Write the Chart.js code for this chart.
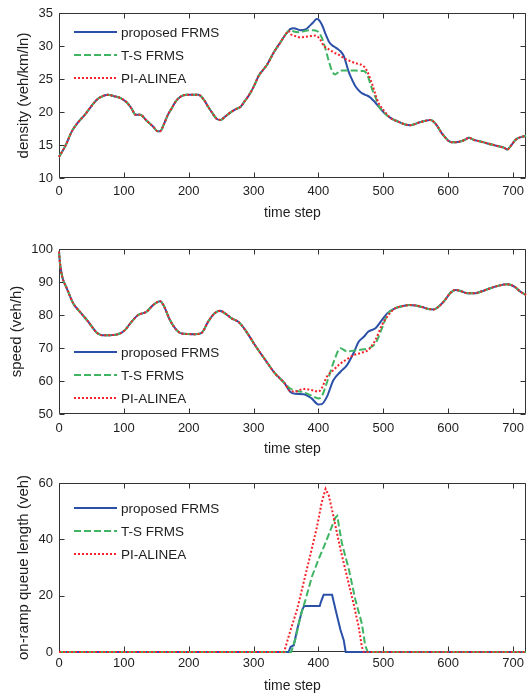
<!DOCTYPE html>
<html>
<head>
<meta charset="utf-8">
<script src="https://cdn.jsdelivr.net/npm/chart.js@4.4.1/dist/chart.umd.min.js"></script>
<style>
  html, body { margin: 0; padding: 0; background: #fff; }
  .panel { position: absolute; left: 0; width: 528px; }
</style>
</head>
<body>
<div class="panel" style="top:0;height:240px"><canvas id="density"></canvas></div>
<div class="panel" style="top:240px;height:230px"><canvas id="speed"></canvas></div>
<div class="panel" style="top:470px;height:225px"><canvas id="queue"></canvas></div>
<script>
// ---- data ----
const seriesLabels = ["proposed FRMS", "T-S FRMS", "PI-ALINEA"];

// density (veh/km/ln): shared part, diverging part (~355-511), shared tail
const densityHeadSteps = [0, 5, 10, 20, 30, 40, 50, 60, 70, 75, 85, 95, 105, 112, 118, 125, 136, 145, 152, 156, 162, 168, 174, 180, 187, 197, 215, 223, 230, 236, 244, 249, 256, 264, 272, 280, 286, 292, 300, 308, 314, 321, 331, 341, 349, 354];
const densityHead = [13.2, 14.0, 14.9, 17.1, 18.5, 19.6, 20.9, 22.0, 22.5, 22.6, 22.4, 22.1, 21.4, 20.5, 19.6, 19.6, 18.6, 17.8, 17.1, 17.1, 18.2, 19.6, 20.6, 21.6, 22.3, 22.6, 22.6, 21.9, 20.8, 19.9, 18.9, 18.8, 19.3, 19.9, 20.4, 20.8, 21.6, 22.4, 23.8, 25.5, 26.3, 27.2, 29.0, 30.5, 31.7, 32.3];
const densityMidSteps = [357, 362, 372, 380, 388, 393, 397, 400, 405, 408, 411, 416, 421, 426, 429, 434, 439, 442, 447, 449, 457, 465, 470, 472, 475, 480, 483, 488, 493, 501, 511];
const densityMidProposed = [32.6, 32.7, 32.4, 32.5, 33.2, 33.7, 34.1, 34.0, 33.3, 32.6, 31.8, 30.7, 30.1, 29.8, 29.6, 29.2, 28.5, 27.6, 26.0, 25.5, 23.9, 23.0, 22.7, 22.6, 22.5, 22.2, 21.9, 21.4, 20.8, 19.9, 19.1];
const densityMidTS = [32.4, 32.2, 32.1, 32.3, 32.4, 32.4, 32.3, 32.1, 31.3, 30.5, 29.5, 27.7, 26.2, 25.7, 25.9, 26.3, 26.3, 26.3, 26.3, 26.3, 26.3, 26.2, 26.2, 26.1, 25.7, 24.3, 23.4, 22.2, 20.9, 19.9, 19.1];
const densityMidPI = [31.8, 31.6, 31.3, 31.4, 31.5, 31.6, 31.5, 31.3, 30.6, 30.0, 29.8, 29.5, 29.2, 28.9, 28.8, 28.5, 28.2, 28.0, 27.8, 27.7, 27.4, 27.2, 26.9, 26.7, 26.2, 25.0, 24.2, 22.6, 21.3, 20.2, 19.1];
const densityTailSteps = [524, 534, 542, 555, 567, 573, 578, 583, 590, 596, 601, 608, 617, 626, 632, 639, 647, 655, 662, 670, 678, 686, 691, 696, 704, 712, 720];
const densityTail = [18.5, 18.1, 18.0, 18.4, 18.7, 18.8, 18.5, 17.9, 16.8, 16.1, 15.6, 15.4, 15.5, 15.8, 16.1, 15.8, 15.6, 15.4, 15.2, 15.0, 14.8, 14.6, 14.3, 14.8, 15.8, 16.2, 16.4];

// speed (veh/h)
const speedHeadSteps = [0, 1.5, 5, 12, 22, 32, 45, 58, 66, 79, 94, 102, 112, 122, 135, 145, 156, 161, 171, 181, 189, 210, 220, 230, 240, 248, 256, 266, 276, 287, 302, 318, 333, 348];
const speedHead = [99.2, 95.7, 91.6, 88.1, 83.5, 81.0, 78.0, 74.7, 73.9, 73.9, 74.4, 75.5, 78.0, 80.0, 81.0, 83.0, 84.2, 83.0, 78.5, 75.5, 74.4, 74.2, 74.6, 78.0, 80.5, 81.3, 80.5, 79.0, 78.0, 75.5, 70.9, 66.4, 62.3, 59.3];
const speedMidSteps = [356, 364, 377, 389, 400, 405, 413, 423, 434, 444, 454, 462, 470, 477, 488, 498, 506, 518];
const speedMidProposed = [56.8, 56.1, 56.0, 54.8, 52.9, 53.0, 55.2, 60.2, 62.8, 64.8, 68.4, 71.9, 73.4, 75.0, 76.0, 78.5, 80.5, 82.0];
const speedMidTS = [57.8, 57.1, 56.6, 55.6, 54.7, 55.3, 59.5, 65.5, 69.9, 69.0, 69.2, 69.4, 69.6, 69.9, 71.5, 76.0, 80.0, 82.0];
const speedMidPI = [57.0, 56.8, 57.6, 57.3, 56.8, 57.8, 61.3, 63.3, 65.3, 66.6, 67.8, 68.3, 68.8, 69.4, 72.5, 77.0, 79.5, 82.0];
const speedTailSteps = [530, 540, 550, 560, 570, 578, 585, 595, 603, 611, 620, 630, 642, 652, 665, 678, 691, 697, 705, 711, 720];
const speedTail = [82.7, 83.0, 82.9, 82.4, 81.8, 81.7, 82.5, 84.5, 86.6, 87.6, 87.2, 86.6, 86.6, 87.2, 88.1, 88.9, 89.3, 89.1, 88.2, 87.1, 86.1];

// on-ramp queue length (veh)
const queueProposedSteps = [0, 354, 357, 362, 367, 375, 378, 402, 404, 408, 421, 429, 434, 439, 442, 720];
const queueProposed = [0, 0, 1.8, 2.4, 7.8, 15, 16.3, 16.3, 17.9, 20.3, 20.3, 12.5, 7.8, 4.2, 0, 0];
const queueTSSteps = [0, 358, 365, 372, 380, 390, 400, 411, 418, 426, 429, 436, 447, 457, 467, 472, 476, 720];
const queueTS = [0, 0, 5, 12.5, 18.5, 26.8, 32.8, 38.8, 43, 47.7, 48.3, 38.8, 29.2, 18.5, 10, 2.4, 0, 0];
const queuePISteps = [0, 347, 357, 367, 377, 387, 398, 405, 411, 416, 423, 434, 444, 454, 462, 467, 470, 720];
const queuePI = [0, 0, 7.8, 15, 24.5, 34, 44.7, 53.1, 57.9, 55.5, 48.3, 36.4, 26.8, 17.3, 9, 1.8, 0, 0];

// ---- helpers ----
const ink = "#1e1e1e";
const family = "'Liberation Sans', Arial, sans-serif";
const lineStyles = [
    { borderColor: "#2b50a8", borderDash: [], order: 3 },
    { borderColor: "#3fb463", borderDash: [7, 3], order: 2 },
    { borderColor: "#f5222a", borderDash: [2, 2], order: 1 },
];

const toPoints = (steps, vals) => steps.map((t, i) => ({ x: t, y: vals[i] }));

function makeDatasets(pointLists, smooth) {
    return pointLists.map((pts, i) => ({
        label: seriesLabels[i],
        data: pts,
        borderColor: lineStyles[i].borderColor,
        borderDash: lineStyles[i].borderDash,
        order: lineStyles[i].order,
        borderWidth: 2,
        pointRadius: 0,
        fill: false,
        clip: 4,
        tension: smooth ? 0.4 : 0,
        cubicInterpolationMode: smooth ? "monotone" : "default",
    }));
}

// box round the plot with inward ticks on all four sides (matlab look)
// drawn under the lines so the zero-level queue lines stay visible
const frameTicks = {
    id: "frameTicks",
    beforeDatasetsDraw(chart) {
        const { ctx, chartArea: a, scales } = chart;
        const L = Math.round(a.left) + 0.5, R = Math.round(a.right) - 0.5;
        const T = Math.round(a.top) + 0.5, B = Math.round(a.bottom) - 0.5;
        const len = 5;
        ctx.save();
        ctx.strokeStyle = "#333";
        ctx.lineWidth = 1;
        ctx.setLineDash([]);
        ctx.beginPath();
        ctx.rect(L, T, R - L, B - T);
        scales.x.ticks.forEach((tk) => {
            const px = Math.round(scales.x.getPixelForValue(tk.value)) + 0.5;
            ctx.moveTo(px, B); ctx.lineTo(px, B - len);
            ctx.moveTo(px, T); ctx.lineTo(px, T + len);
        });
        scales.y.ticks.forEach((tk) => {
            const py = Math.round(scales.y.getPixelForValue(tk.value)) + 0.5;
            ctx.moveTo(L, py); ctx.lineTo(L + len, py);
            ctx.moveTo(R, py); ctx.lineTo(R - len, py);
        });
        ctx.stroke();
        ctx.restore();
    },
};

// legend drawn inside the axes, no box
const insideLegend = {
    id: "insideLegend",
    afterDraw(chart, args, opts) {
        const ctx = chart.ctx;
        ctx.save();
        ctx.font = "13.5px " + family;
        ctx.textBaseline = "middle";
        ctx.fillStyle = ink;
        chart.data.datasets.forEach((ds, i) => {
            const y = opts.y + i * opts.gap;
            ctx.beginPath();
            ctx.strokeStyle = ds.borderColor;
            ctx.lineWidth = 2;
            ctx.setLineDash(ds.borderDash);
            ctx.moveTo(opts.x, y);
            ctx.lineTo(opts.x + 43, y);
            ctx.stroke();
            ctx.fillText(ds.label, opts.x + 47, y + 1);
        });
        ctx.restore();
    },
};

function makeChart(id, datasets, p) {
    return new Chart(document.getElementById(id), {
        type: "line",
        data: { datasets },
        plugins: [frameTicks, insideLegend],
        options: {
            responsive: true,
            maintainAspectRatio: false,
            animation: false,
            devicePixelRatio: 1,
            layout: { padding: { top: p.top, right: 2, left: 0, bottom: 0 } },
            plugins: {
                legend: { display: false },
                tooltip: { enabled: false },
                insideLegend: p.legend,
            },
            scales: {
                x: {
                    type: "linear",
                    min: 0,
                    max: 720,
                    grid: { display: false, drawTicks: false },
                    border: { display: false },
                    ticks: { stepSize: 100, includeBounds: false, padding: p.xPad, maxRotation: 0, color: ink, font: { family, size: 13 } },
                    title: { display: true, text: "time step", color: ink, font: { family, size: 14 }, padding: { top: 0, bottom: p.xTitlePad } },
                    afterFit(s) { s.height = p.xHeight; s.paddingLeft = 0; s.paddingRight = 0; },
                },
                y: {
                    min: p.yMin,
                    max: p.yMax,
                    grid: { display: false, drawTicks: false },
                    border: { display: false },
                    ticks: { stepSize: p.yStep, padding: 6, color: ink, font: { family, size: 13 } },
                    title: { display: true, text: p.yTitle, color: ink, font: { family, size: 15 }, padding: { top: p.yTitlePad, bottom: 0 } },
                    afterFit(s) { s.width = 59; s.paddingTop = 0; s.paddingBottom = 0; },
                },
            },
        },
    });
}

const densitySets = [densityMidProposed, densityMidTS, densityMidPI].map((mid) => toPoints(
    densityHeadSteps.concat(densityMidSteps, densityTailSteps),
    densityHead.concat(mid, densityTail)
));

const speedSets = [speedMidProposed, speedMidTS, speedMidPI].map((mid) => toPoints(
    speedHeadSteps.concat(speedMidSteps, speedTailSteps),
    speedHead.concat(mid, speedTail)
));

const queueSets = [
    toPoints(queueProposedSteps, queueProposed),
    toPoints(queueTSSteps, queueTS),
    toPoints(queuePISteps, queuePI),
];

makeChart("density", makeDatasets(densitySets, true), {
    top: 13, xHeight: 62, xPad: 6, xTitlePad: 18,
    yMin: 10, yMax: 35, yStep: 5, yTitle: "density (veh/km/ln)", yTitlePad: 15,
    legend: { x: 74, y: 32, gap: 23 },
});
makeChart("speed", makeDatasets(speedSets, true), {
    top: 9, xHeight: 56, xPad: 7, xTitlePad: 12,
    yMin: 50, yMax: 100, yStep: 10, yTitle: "speed (veh/h)", yTitlePad: 8,
    legend: { x: 74, y: 112, gap: 23 },
});
makeChart("queue", makeDatasets(queueSets, false), {
    top: 13, xHeight: 43, xPad: 4, xTitlePad: 0,
    yMin: 0, yMax: 60, yStep: 20, yTitle: "on-ramp queue length (veh)", yTitlePad: 15,
    legend: { x: 74, y: 38, gap: 23 },
});
</script>
</body>
</html>
